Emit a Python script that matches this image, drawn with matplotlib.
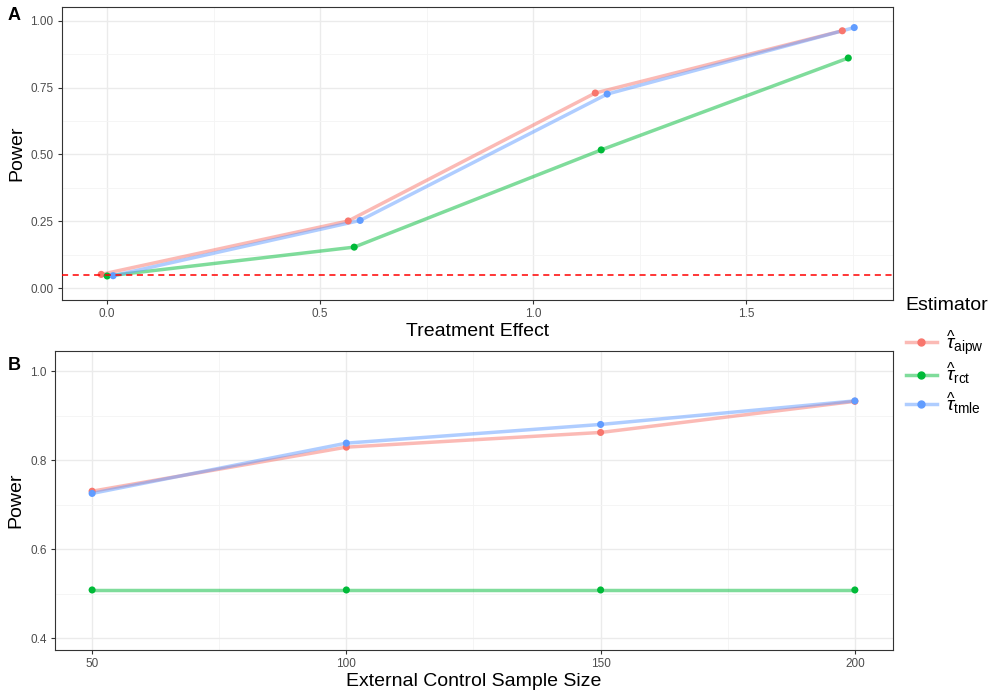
import numpy as np
import matplotlib
matplotlib.use('Agg')
import matplotlib.pyplot as plt
from matplotlib.lines import Line2D
from matplotlib.ticker import MultipleLocator

plt.rcParams['font.family'] = ['Liberation Sans', 'DejaVu Sans']
plt.rcParams['mathtext.fontset'] = 'custom'
plt.rcParams['mathtext.rm'] = 'Liberation Sans'
plt.rcParams['mathtext.it'] = 'Liberation Sans:italic'

# data
estimators = ['aipw', 'rct', 'tmle']
colors = ['#F8766D', '#00BA38', '#619CFF']

effect = [0.0, 0.58, 1.16, 1.74]
power_effect = {
    'aipw': [0.051, 0.251, 0.730, 0.963],
    'rct': [0.045, 0.153, 0.517, 0.861],
    'tmle': [0.046, 0.253, 0.726, 0.975],
}

sample_size = [50, 100, 150, 200]
power_size = {
    'aipw': [0.730, 0.829, 0.862, 0.932],
    'rct': [0.508, 0.508, 0.508, 0.508],
    'tmle': [0.725, 0.838, 0.880, 0.933],
}

alpha_level = 0.05


def style_axes(ax):
    ax.set_facecolor('white')
    for s in ax.spines.values():
        s.set_color('#333333')
        s.set_linewidth(0.8)
    ax.grid(True, which='major', color='#EBEBEB', linewidth=1.0, zorder=0)
    ax.grid(True, which='minor', color='#F4F4F4', linewidth=0.6, zorder=0)
    ax.tick_params(which='major', length=3, width=0.8, color='#333333',
                   labelsize=8.5, labelcolor='#4D4D4D', pad=3)
    ax.tick_params(which='minor', length=0)
    ax.set_axisbelow(True)


fig = plt.figure(figsize=(10, 7), dpi=100)
ax_a = fig.add_axes([0.062, 0.5714, 0.831, 0.4186])
ax_b = fig.add_axes([0.055, 0.0714, 0.838, 0.4271])

# panel A (dodged points)
dodge = [-0.014, 0.0, 0.014]
x_a = np.array(effect)
for est, col, dx in zip(estimators, colors, dodge):
    ax_a.plot(x_a + dx, power_effect[est], color=col, alpha=0.5, lw=2.5,
              solid_capstyle='butt', zorder=3)
    ax_a.scatter(x_a + dx, power_effect[est], color=col, s=26, zorder=4,
                 edgecolors='none')
ax_a.axhline(alpha_level, color='#FF0000', ls=(0, (4, 3)), lw=1.1, zorder=5)
ax_a.set_xlim(-0.106, 1.845)
ax_a.set_ylim(-0.045, 1.052)
ax_a.set_xticks([0, 0.5, 1.0, 1.5])
ax_a.set_xticklabels(['0.0', '0.5', '1.0', '1.5'])
ax_a.xaxis.set_minor_locator(MultipleLocator(0.25))
ax_a.set_yticks([0, 0.25, 0.5, 0.75, 1.0])
ax_a.set_yticklabels(['0.00', '0.25', '0.50', '0.75', '1.00'])
ax_a.yaxis.set_minor_locator(MultipleLocator(0.125))
style_axes(ax_a)
ax_a.set_xlabel('Treatment Effect', fontsize=14, labelpad=2)
ax_a.set_ylabel('Power', fontsize=14, labelpad=4)

# panel B
for est, col in zip(estimators, colors):
    ax_b.plot(sample_size, power_size[est], color=col, alpha=0.5, lw=2.5,
              solid_capstyle='butt', zorder=3)
    ax_b.scatter(sample_size, power_size[est], color=col, s=26, zorder=4,
                 edgecolors='none')
ax_b.set_xlim(42.7, 207.5)
ax_b.set_ylim(0.373, 1.045)
ax_b.set_xticks(sample_size)
ax_b.xaxis.set_minor_locator(MultipleLocator(25))
ax_b.set_yticks([0.4, 0.6, 0.8, 1.0])
ax_b.set_yticklabels(['0.4', '0.6', '0.8', '1.0'])
ax_b.yaxis.set_minor_locator(MultipleLocator(0.1))
style_axes(ax_b)
ax_b.set_xlabel('External Control Sample Size', fontsize=14, labelpad=2)
ax_b.set_ylabel('Power', fontsize=14, labelpad=4)

fig.text(0.008, 0.978, 'A', fontsize=13, fontweight='bold', va='center')
fig.text(0.008, 0.478, 'B', fontsize=13, fontweight='bold', va='center')

# legend
handles = []
for est, col in zip(estimators, colors):
    h = (Line2D([], [], color=col, alpha=0.5, lw=2.5),
         Line2D([], [], color=col, marker='o', markersize=5, lw=0))
    handles.append(h)
labels = [r'$\widehat{\tau}_{\mathrm{%s}}$' % e for e in estimators]
leg = fig.legend(handles, labels, title='Estimator', loc='upper left',
                 bbox_to_anchor=(0.888, 0.6), frameon=False, fontsize=14,
                 title_fontsize=14, handlelength=1.6, handletextpad=0.5,
                 labelspacing=0.2, alignment='left')
leg._legend_box.sep = 10

fig.savefig('out.png', dpi=100)
